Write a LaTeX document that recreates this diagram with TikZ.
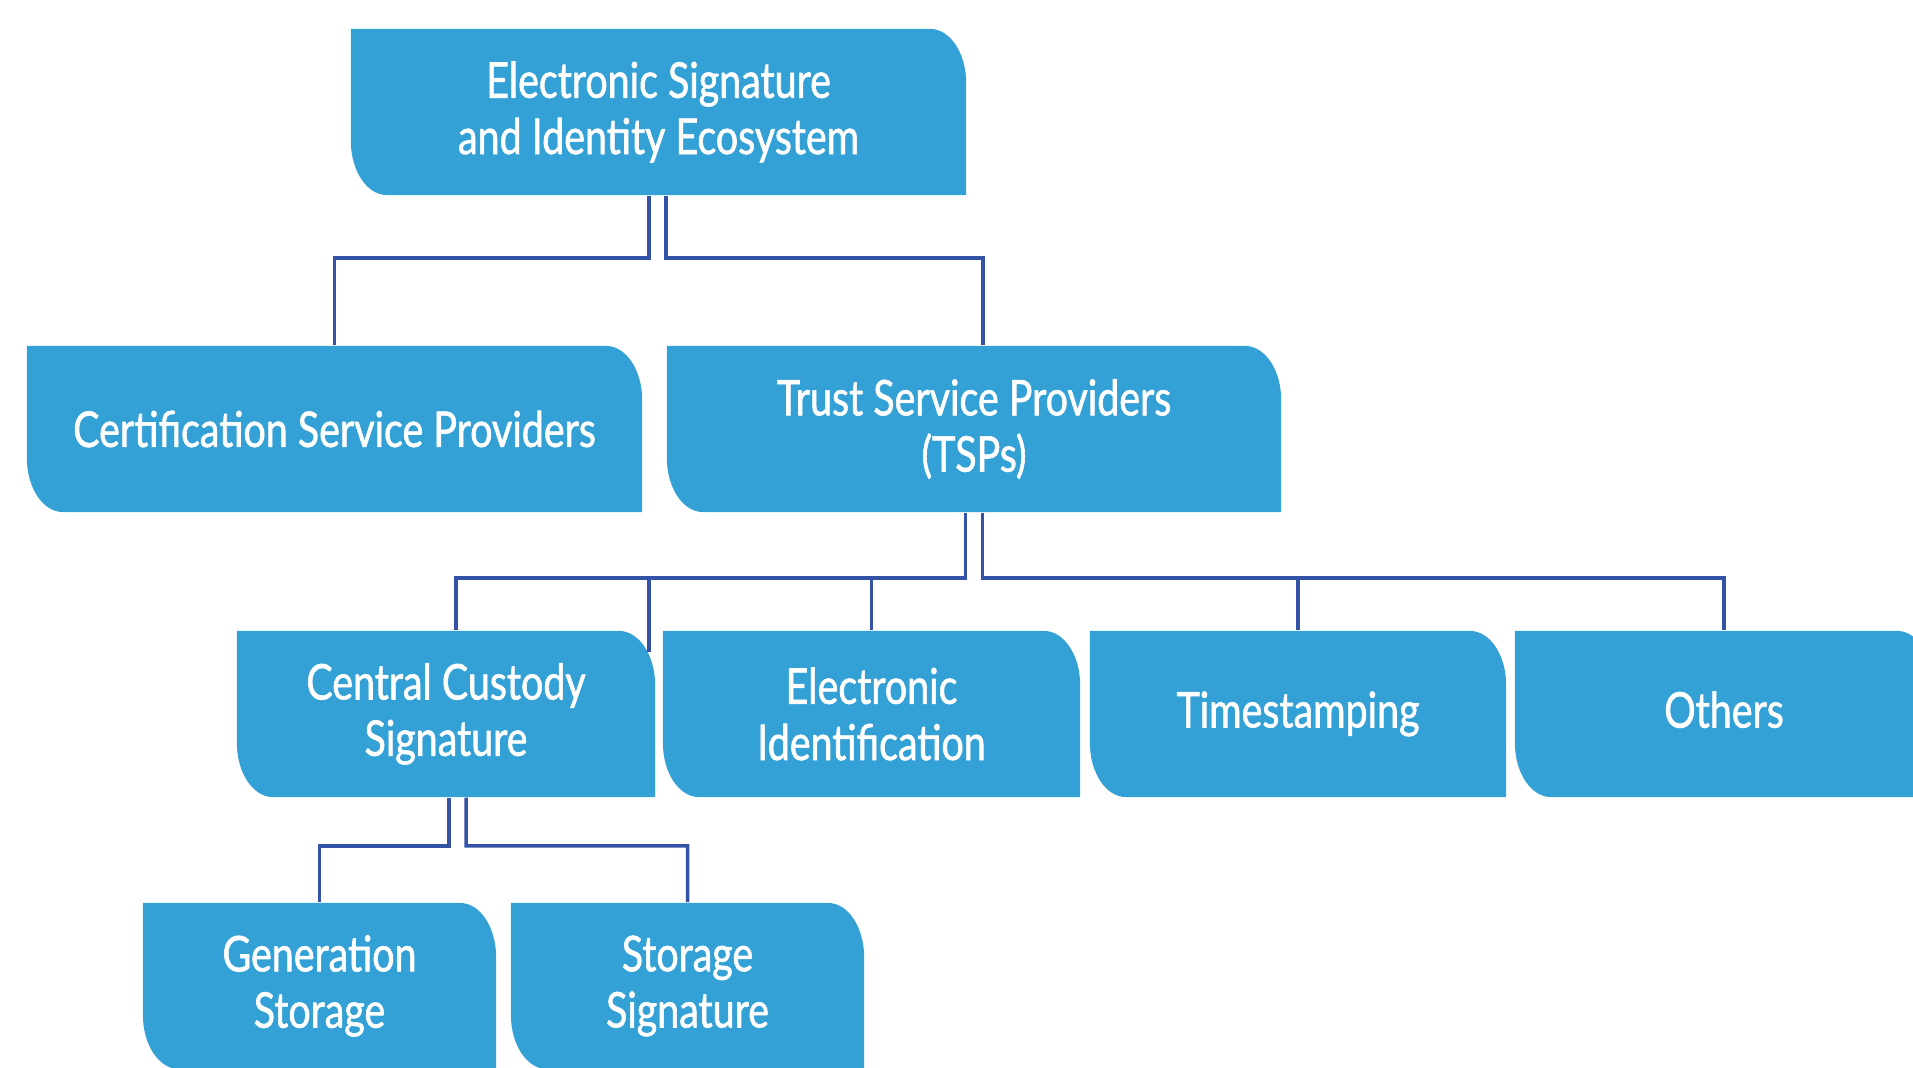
\documentclass[tikz,border=0pt]{standalone}
\usepackage{fontspec}
\setmainfont{Lato}[FakeStretch=0.80, FakeBold=1.2]
\definecolor{boxblue}{HTML}{33A1D6}
\definecolor{linkblue}{HTML}{3453A6}
\begin{document}
\begin{tikzpicture}[x=0.01cm, y=0.01cm,
                    card/.style = {minimum height=1.66cm, inner sep=0pt, align=center, text=white,
                                   font=\fontsize{14}{16}\selectfont,
                                   path picture={\fill[boxblue] (path picture bounding box.north west)
                                     -- ([xshift=-0.36cm]path picture bounding box.north east)
                                     arc[start angle=90, end angle=0, x radius=0.36cm, y radius=0.54cm]
                                     -- (path picture bounding box.south east)
                                     -- ([xshift=0.36cm]path picture bounding box.south west)
                                     arc[start angle=270, end angle=180, x radius=0.36cm, y radius=0.54cm]
                                     -- cycle;}},
                    link/.style = {linkblue, line width=1pt}]
                    \useasboundingbox (0,0) rectangle (1913,1067);

                    \node[card, minimum width=6.15cm] (eco) at (658.5,955) {Electronic Signature\\and Identity Ecosystem};
                    \node[card, minimum width=6.15cm] (csp) at (334.5,638) {Certification Service Providers};
                    \node[card, minimum width=6.14cm] (tsp) at (974,638)   {Trust Service Providers\\(TSPs)};

                    \node[card, minimum width=4.18cm] (ccs) at (446,353)   {Central Custody\\Signature};
                    \node[card, minimum width=4.17cm] (eid) at (871.5,353) {Electronic\\Identification};
                    \node[card, minimum width=4.16cm] (tst) at (1298,353)  {Timestamping};
                    \node[card, minimum width=4.18cm] (oth) at (1724,353)  {Others\vphantom{g}};

                    \node[card, minimum width=3.53cm] (gen) at (319.5,81)  {Generation\\Storage};
                    \node[card, minimum width=3.53cm] (sto) at (687.5,81)  {Storage\\Signature};

                    \coordinate (ecobus) at ([yshift=-0.62cm]eco.south);
                    \draw[link] ([xshift=-0.095cm]eco.south) -- ([xshift=-0.095cm]ecobus) -| (csp.north);
                    \draw[link] ([xshift=0.075cm]eco.south) -- ([xshift=0.075cm]ecobus) -| ([xshift=0.09cm]tsp.north);

                    \coordinate (tspbus) at ([yshift=-0.65cm]tsp.south);
                    \coordinate (ccscorner) at ([xshift=-0.07cm, yshift=-0.22cm]ccs.north east);
                    \draw[link] ([xshift=-0.085cm]tsp.south) -- ([xshift=-0.085cm]tspbus) -| ([xshift=0.1cm]ccs.north);
                    \draw[link] ([xshift=0.085cm]tsp.south) -- ([xshift=0.085cm]tspbus) -| (oth.north);
                    \draw[link] (ccscorner) -- (ccscorner |- tspbus);
                    \draw[link] (eid.north) -- (eid.north |- tspbus);
                    \draw[link] (tst.north) -- (tst.north |- tspbus);

                    \coordinate (ccsbus) at ([xshift=0.115cm, yshift=-0.48cm]ccs.south);
                    \draw[link] ([xshift=0.03cm]ccs.south) -- ([xshift=-0.085cm]ccsbus) -| (gen.north);
                    \draw[link] ([xshift=0.2cm]ccs.south) -- ([xshift=0.085cm]ccsbus) -| (sto.north);
\end{tikzpicture}
\end{document}
